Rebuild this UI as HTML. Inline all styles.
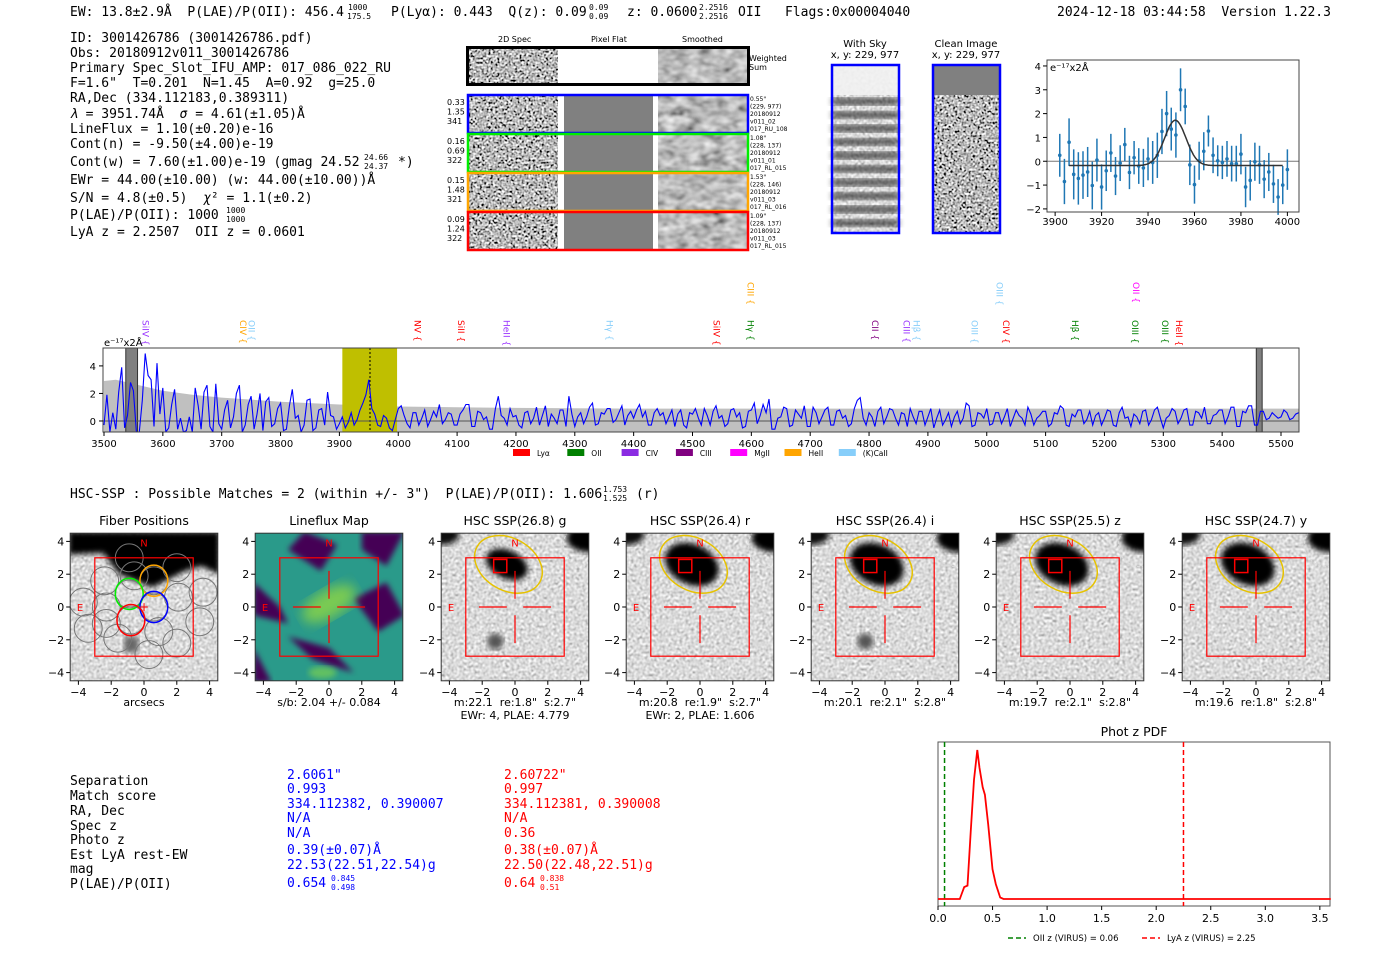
<!DOCTYPE html>
<html><head><meta charset="utf-8"><style>
body{margin:0;background:#fff;width:1400px;height:953px;overflow:hidden}
svg{display:block}
text{white-space:pre}
.m{font-family:"DejaVu Sans Mono","Liberation Mono",monospace;font-size:13px}
.s{font-family:"DejaVu Sans","Liberation Sans",sans-serif}
.t{font-family:"DejaVu Sans","Liberation Sans",sans-serif}
</style></head><body>
<svg id="root" width="1400" height="953" viewBox="0 0 1400 953" xmlns="http://www.w3.org/2000/svg" xml:space="preserve">
<defs>
<filter id="nz" x="0" y="0" width="1" height="1"><feTurbulence type="fractalNoise" baseFrequency="0.45" numOctaves="1" seed="4"/><feColorMatrix type="matrix" values="0.33 0.33 0.33 0 0 0.33 0.33 0.33 0 0 0.33 0.33 0.33 0 0 0 0 0 0 1"/><feComponentTransfer><feFuncR type="linear" slope="4" intercept="-1.5"/><feFuncG type="linear" slope="4" intercept="-1.5"/><feFuncB type="linear" slope="4" intercept="-1.5"/></feComponentTransfer></filter>
<filter id="sm" x="0" y="0" width="1" height="1"><feTurbulence type="fractalNoise" baseFrequency="0.08 0.12" numOctaves="2" seed="7"/><feColorMatrix type="matrix" values="0.33 0.33 0.33 0 0 0.33 0.33 0.33 0 0 0.33 0.33 0.33 0 0 0 0 0 0 1"/><feComponentTransfer><feFuncR type="linear" slope="1.8" intercept="-0.4"/><feFuncG type="linear" slope="1.8" intercept="-0.4"/><feFuncB type="linear" slope="1.8" intercept="-0.4"/></feComponentTransfer></filter>
<filter id="lt" x="0" y="0" width="1" height="1"><feTurbulence type="fractalNoise" baseFrequency="0.35" numOctaves="1" seed="2"/><feColorMatrix type="matrix" values="0.5 0.5 0.5 0 -0.05 0.5 0.5 0.5 0 -0.05 0.5 0.5 0.5 0 -0.05 0 0 0 0 1"/></filter>
<filter id="bl"><feGaussianBlur stdDeviation="3"/></filter>
<filter id="bl2"><feGaussianBlur stdDeviation="6"/></filter>
</defs>

<g class="m">
<text x="70" y="16">EW: 13.8±2.9Å  P(LAE)/P(OII): 456.4</text>
<text x="348" y="10" style="font-size:8px">1000</text><text x="347" y="19" style="font-size:8px">175.5</text>
<text x="391" y="16">P(Lyα): 0.443  Q(z): 0.09</text>
<text x="589" y="10" style="font-size:8px">0.09</text><text x="589" y="19" style="font-size:8px">0.09</text>
<text x="627" y="16">z: 0.0600</text>
<text x="699" y="10" style="font-size:8px">2.2516</text><text x="699" y="19" style="font-size:8px">2.2516</text>
<text x="738" y="16">OII   Flags:0x00004040</text>
<text x="1057" y="16">2024-12-18 03:44:58  Version 1.22.3</text>
</g>
<g class="m">
<text x="70" y="42">ID: 3001426786 (3001426786.pdf)</text>
<text x="70" y="57">Obs: 20180912v011_3001426786</text>
<text x="70" y="72">Primary Spec_Slot_IFU_AMP: 017_086_022_RU</text>
<text x="70" y="87">F=1.6"  T=0.201  N=1.45  A=0.92  g=25.0</text>
<text x="70" y="102">RA,Dec (334.112183,0.389311)</text>
<text x="70" y="118"><tspan font-style="italic">λ</tspan> = 3951.74Å  <tspan font-style="italic">σ</tspan> = 4.61(±1.05)Å</text>
<text x="70" y="133">LineFlux = 1.10(±0.20)e-16</text>
<text x="70" y="148">Cont(n) = -9.50(±4.00)e-19</text>
<text x="70" y="166">Cont(w) = 7.60(±1.00)e-19 (gmag 24.52</text>
<text x="364" y="160" style="font-size:8px">24.66</text><text x="364" y="169" style="font-size:8px">24.37</text><text x="398" y="166">*)</text>
<text x="70" y="184">EWr = 44.00(±10.00) (w: 44.00(±10.00))Å</text>
<text x="70" y="202">S/N = 4.8(±0.5)  <tspan font-style="italic">χ</tspan>² = 1.1(±0.2)</text>
<text x="70" y="219">P(LAE)/P(OII): 1000</text>
<text x="226" y="213" style="font-size:8px">1000</text><text x="226" y="222" style="font-size:8px">1000</text>
<text x="70" y="236">LyA z = 2.2507  OII z = 0.0601</text>
</g>

<g id="spec2d" class="s" style="font-size:8px">
<text x="498" y="42">2D Spec</text><text x="591" y="42">Pixel Flat</text><text x="682" y="42">Smoothed</text>
</g>
<g class="s" style="font-size:10px">
<text x="865" y="47" text-anchor="middle">With Sky</text><text x="865" y="58" text-anchor="middle">x, y: 229, 977</text>
<text x="966" y="47" text-anchor="middle">Clean Image</text><text x="966" y="58" text-anchor="middle">x, y: 229, 977</text>
<rect x="832" y="65" width="67" height="168" fill="#bbb" filter="url(#lt)"/>
<rect x="832" y="65" width="67" height="30" fill="#f2f2f2" opacity="0.9"/>
<g id="skybands"></g>
<rect x="832" y="65" width="67" height="168" fill="none" stroke="#0000ff" stroke-width="2.5"/>
<rect x="933" y="65" width="67" height="168" fill="#888" filter="url(#nz)"/>
<rect x="933" y="65" width="67" height="30" fill="#808080"/>
<rect x="933" y="65" width="67" height="168" fill="none" stroke="#0000ff" stroke-width="2.5"/>
</g>

<g id="zoomplot"></g>
<g id="specplot"></g>

<g class="m">
<text x="70" y="498">HSC-SSP : Possible Matches = 2 (within +/- 3")  P(LAE)/P(OII): 1.606</text>
<text x="603" y="492" style="font-size:8px">1.753</text><text x="603" y="501" style="font-size:8px">1.525</text>
<text x="636" y="498">(r)</text>
</g>

<g id="cutouts"></g>

<g class="m">
<text x="70" y="785">Separation</text><text x="70" y="800">Match score</text><text x="70" y="815">RA, Dec</text><text x="70" y="830">Spec z</text><text x="70" y="844">Photo z</text><text x="70" y="859">Est LyA rest-EW</text><text x="70" y="873">mag</text><text x="70" y="888">P(LAE)/P(OII)</text>
<g fill="#0000ff"><text x="287" y="779">2.6061"</text><text x="287" y="793">0.993</text><text x="287" y="808">334.112382, 0.390007</text><text x="287" y="822">N/A</text><text x="287" y="837">N/A</text><text x="287" y="854">0.39(±0.07)Å</text><text x="287" y="869">22.53(22.51,22.54)g</text><text x="287" y="887">0.654</text><text x="331" y="881" style="font-size:8px">0.845</text><text x="331" y="890" style="font-size:8px">0.498</text></g>
<g fill="#ff0000"><text x="504" y="779">2.60722"</text><text x="504" y="793">0.997</text><text x="504" y="808">334.112381, 0.390008</text><text x="504" y="822">N/A</text><text x="504" y="837">0.36</text><text x="504" y="854">0.38(±0.07)Å</text><text x="504" y="869">22.50(22.48,22.51)g</text><text x="504" y="887">0.64</text><text x="540" y="881" style="font-size:8px">0.838</text><text x="540" y="890" style="font-size:8px">0.51</text></g>
</g>

<g id="pdfplot"></g>
</svg>
<script>
const NS='http://www.w3.org/2000/svg';
function mk(tag,attrs,parent){const e=document.createElementNS(NS,tag);for(const k in attrs){e.setAttribute(k,attrs[k]);if(k==='font-size')e.style.fontSize=attrs[k]+'px';}parent.appendChild(e);return e;}
function tx(str,attrs,parent){if(attrs.class==='t'&&!('font-size' in attrs))attrs['font-size']=11;const e=mk('text',attrs,parent);e.textContent=str;return e;}

// ===== zoom line fit data =====
const fitWave=[3902,3904,3906,3908,3910,3912,3914,3916,3918,3920,3922,3924,3926,3928,3930,3932,3934,3936,3938,3940,3942,3944,3946,3948,3950,3952,3954,3956,3958,3960,3962,3964,3966,3968,3970,3972,3974,3976,3978,3980,3982,3984,3986,3988,3990,3992,3994,3996,3998,4000];
const fitFlux=[0.25,-0.85,0.8,-0.55,-0.72,-0.58,-0.45,-1.02,0.05,-1.08,-0.4,0.35,-0.62,-0.08,0.7,-0.47,0.15,-0.2,-0.28,0.1,-0.05,0.25,1.25,2.0,1.35,1.1,3.0,2.3,-0.15,-0.98,0.02,0.42,1.27,0.25,0.02,-0.05,0.1,-0.1,-0.1,0.3,-1.08,-0.8,-0.02,-0.15,-0.75,-0.45,-0.95,-1.5,-1.0,-0.35];
const fitErr=[0.9,0.95,1.0,1.05,1.1,1.0,1.05,1.0,0.9,0.95,0.85,0.8,0.8,0.75,0.7,0.7,0.7,0.75,0.8,0.9,0.9,0.95,0.95,0.95,0.9,0.95,0.9,0.75,0.85,0.8,0.8,0.8,0.65,0.75,0.65,0.7,0.75,0.75,0.75,0.85,0.85,0.85,0.8,0.8,0.8,0.8,0.8,0.75,0.8,0.85];
const fitParams=[3951.74,4.61,1.9,-0.18];
const fitXTicks=[3900,3920,3940,3960,3980,4000];
const fitYTicks=[-2,-1,0,1,2,3,4];

// ===== full spectrum data (5 A steps from 3500) =====
const specStart=3500, specStep=5;
const specFlux=[
-0.3,1.9,-0.8,0.6,-0.6,2.1,3.9,-0.5,0.4,2.8,2.2,-0.8,-0.8,1.5,4.9,3.3,3.0,-0.4,4.2,0.5,
2.4,-0.8,-0.5,1.2,2.3,-0.6,0.2,-0.8,-0.7,0.3,-0.8,2.4,1.1,-0.6,2.1,2.6,-0.4,-0.8,2.7,-0.2,
-0.6,0.8,1.5,-0.5,0.3,2.0,2.6,-0.8,-0.3,1.2,1.8,-0.6,0.5,2.0,-0.7,1.4,1.7,-0.4,-0.2,0.9,
1.3,-0.7,-0.6,1.1,2.3,0.2,0.4,-0.8,-0.3,1.5,1.6,-0.7,-0.5,0.8,0.9,-0.3,2.1,0.4,0.3,-0.6,
-0.2,0.3,-0.5,-0.1,0.6,-0.3,0.1,0.8,1.3,1.9,3.0,0.9,0.5,-0.3,-0.4,0.4,0.2,-0.5,-0.7,0.1,
0.9,1.1,0.4,-0.2,-0.5,0.6,0.6,-0.3,0.2,0.8,-0.4,0.1,0.7,0.3,1.2,-0.2,0.1,0.6,0.5,-0.3,
-0.3,0.5,0.8,1.2,1.2,-0.4,-0.4,0.7,0.6,0.1,0.3,-0.6,-0.6,0.9,1.8,0.4,0.2,-0.3,0.9,0.3,
0.4,-0.3,-0.5,0.6,0.7,-0.2,0.2,1.0,-0.3,0.4,1.1,-0.4,0.5,0.2,-0.2,0.8,0.8,-0.4,1.8,0.5,
-0.4,0.3,0.6,-0.2,0.3,1.0,1.3,-0.3,-0.2,0.6,0.5,0.9,0.9,-0.1,0.1,0.6,1.1,-0.3,0.4,0.7,
0.2,0.8,1.2,0.3,0.7,-0.3,-0.3,0.6,0.9,0.4,0.6,-0.2,0.3,0.8,-0.4,0.5,0.8,-0.3,-0.5,0.6,
0.5,0.9,0.2,-0.3,0.9,0.4,-0.3,0.7,1.1,0.2,0.4,-0.4,-0.2,0.8,0.9,0.3,0.6,-0.5,-0.4,0.7,
0.8,1.3,-0.2,0.4,1.2,0.6,1.6,-0.6,-0.6,0.2,0.3,1.0,0.9,-0.4,-0.3,0.8,0.5,0.2,1.1,-0.4,
-0.4,1.0,0.6,-0.2,0.3,0.8,1.0,-0.3,-0.3,0.7,0.8,0.2,0.4,-0.4,-0.2,0.9,1.5,1.7,0.2,-0.3,
0.6,0.3,-0.4,0.7,1.0,-0.2,0.3,0.9,0.8,0.2,-0.3,0.6,0.5,-0.4,0.9,0.3,-0.2,0.7,0.7,-0.3,
0.3,0.9,-0.5,0.2,0.8,-0.3,0.1,0.6,-0.4,0.3,0.7,-0.2,0.2,1.3,1.1,-0.4,-0.3,0.6,0.5,0.2,
0.9,-0.3,-0.2,0.6,0.6,-0.2,0.3,0.9,-0.4,0.2,0.8,0.4,0.2,-0.3,1.0,0.5,-0.3,0.2,0.4,0.7,
0.7,-0.4,-0.2,0.6,0.5,1.1,0.9,-0.3,-0.4,0.5,0.3,0.8,0.8,-0.2,0.1,0.7,-0.3,0.4,0.6,-0.3,
0.2,0.8,0.7,-0.3,-0.4,0.6,1.0,0.2,0.3,-0.4,0.5,0.3,-0.2,0.7,0.8,-0.3,0.1,0.8,1.0,0.2,
-0.5,0.2,0.4,0.9,0.7,-0.2,0.2,0.8,0.9,-0.3,-0.3,0.7,0.6,0.2,1.0,-0.2,-0.2,0.4,0.5,0.8,
0.8,-0.2,0.3,1.0,1.0,-0.4,-0.4,0.7,0.6,1.1,1.1,-0.3,-0.3,0.7,0.7,0.1,0.2,0.6,0.4,0.2,
0.3,0.8,0.6,0.1,0.2,0.5,0.6,0.3];
const errWave=[3500,3520,3600,3650,3700,3800,3900,4000,4100,4200,4400,4600,4800,5000,5200,5400,5530];
const errVal=[2.9,3.0,2.2,1.9,1.7,1.4,1.2,1.05,1.0,0.95,0.9,0.9,0.9,0.9,0.9,0.9,0.9];
const specXTicks=[3500,3600,3700,3800,3900,4000,4100,4200,4300,4400,4500,4600,4700,4800,4900,5000,5100,5200,5300,5400,5500];
const specYTicks=[0,2,4];
const lineNames=['SiIV','CIV','OII','NV','SiII','HeII','Hγ','SiIV','Hγ','CII','CIII','Hβ','OIII','CIV','Hβ','OIII','OIII','HeII','CIII','OIII','OII'];
const lineWaves=[3570,3735,3750,4032,4106,4183,4358,4540,4598,4809,4863,4880,4978,5032,5149,5251,5302,5326,4598,5021,5253];
const lineRows=[0,0,0,0,0,0,0,0,0,0,0,0,0,0,0,0,0,0,1,1,1];
const lineColors=['#9933ff','#ffa500','#87cefa','#ff0000','#ff0000','#9933ff','#87cefa','#ff0000','#008000','#800080','#9933ff','#87cefa','#87cefa','#ff0000','#008000','#008000','#008000','#ff0000','#ffa500','#87cefa','#ff00ff'];
const legendNames=['Lyα','OII','CIV','CIII','MgII','HeII','(K)CaII'];
const legendColors=['#ff0000','#008000','#8a2be2','#800080','#ff00ff','#ffa500','#87cefa'];

// ===== phot z pdf =====
const pdfZ=[0,0.2,0.22,0.24,0.27,0.3,0.33,0.36,0.38,0.41,0.43,0.46,0.5,0.53,0.57,0.6,3.6];
const pdfP=[0,0,0.04,0.08,0.09,0.45,0.8,1.0,0.88,0.75,0.7,0.5,0.2,0.1,0.01,0,0];
const pdfXTicks=[0,0.5,1.0,1.5,2.0,2.5,3.0,3.5];
const pdfMarkers=[0.06,2.25];

(function(){
 const g=document.getElementById('spec2d');
 let e=mk('rect',{x:469,y:48,width:89,height:35,fill:'#888',filter:'url(#nz)'},g);
 e=mk('rect',{x:658,y:48,width:89,height:35,fill:'#888',filter:'url(#sm)'},g);
 e=mk('rect',{x:467.5,y:47.5,width:281,height:37,fill:'none',stroke:'#000','stroke-width':3},g);
 
 
 tx('Weighted',{x:749,y:61},g);tx('Sum',{x:749,y:70},g);
 const rows=[[95,'#0000ff',['0.33','1.35','341'],['0.55"','(229, 977)','20180912','v011_02','017_RU_108']],[134,'#00ee00',['0.16','0.69','322'],['1.08"','(228, 137)','20180912','v011_01','017_RL_015']],[173,'#ffa500',['0.15','1.48','321'],['1.53"','(228, 146)','20180912','v011_03','017_RL_016']],[212,'#ff0000',['0.09','1.24','322'],['1.09"','(228, 137)','20180912','v011_03','017_RL_015']]];
 rows.forEach((r,i)=>{
  const y=r[0];
  mk('rect',{x:469,y:y,width:89,height:38,fill:'#888',filter:'url(#nz)'},g);
  mk('rect',{x:564,y:y,width:89,height:38,fill:'#808080'},g);
  mk('rect',{x:658,y:y,width:89,height:38,fill:'#888',filter:'url(#sm)'},g);
  const b=mk('rect',{x:468,y:y,width:280,height:38,fill:'none',stroke:r[1],'stroke-width':2.5},g);
  
  
  r[2].forEach((s,k)=>tx(s,{x:447,y:y+10+k*9.5},g));
  r[3].forEach((s,k)=>tx(s,{x:750,y:y+6+k*7.5,'font-size':6},g));
 });
 const sb=document.getElementById('skybands');
 for(let i=0;i<10;i++){mk('rect',{x:832,y:98+i*13.5,width:67,height:7,fill:'#222',opacity:0.75,filter:'url(#bl)'},sb);}
})();

(function(){
 const g=document.getElementById('zoomplot');
 const L=1047,R=1299,T=60,B=212,x0=3896.5,x1=4005,y0=-2.13,y1=4.25;
 const X=v=>L+(v-x0)/(x1-x0)*(R-L), Y=v=>B-(v-y0)/(y1-y0)*(B-T);
 mk('rect',{x:L,y:T,width:R-L,height:B-T,fill:'#fff'},g);
 mk('line',{x1:L,x2:R,y1:Y(0),y2:Y(0),stroke:'#777','stroke-width':1},g);
 fitWave.forEach((w,i)=>{
  const eb=mk('line',{x1:X(w),x2:X(w),y1:Y(fitFlux[i]-fitErr[i]),y2:Y(fitFlux[i]+fitErr[i]),stroke:'#1f77b4','stroke-width':1.5},g);
  
  
  const p=mk('circle',{cx:X(w),cy:Y(fitFlux[i]),r:1.8,fill:'#1f77b4'},g);
  
  
 });
 let d='';
 for(let w=3906;w<=3998;w+=0.5){const v=fitParams[3]+fitParams[2]*Math.exp(-0.5*Math.pow((w-fitParams[0])/fitParams[1],2));d+=(d?'L':'M')+X(w).toFixed(1)+','+Y(v).toFixed(1);}
 const fl=mk('path',{d:d,fill:'none',stroke:'#333','stroke-width':1.5},g);
 
 
 mk('rect',{x:L,y:T,width:R-L,height:B-T,fill:'none',stroke:'#444','stroke-width':1},g);
 fitXTicks.forEach(v=>{mk('line',{x1:X(v),x2:X(v),y1:B,y2:B+4,stroke:'#000'},g);tx(String(v),{x:X(v),y:B+13,'text-anchor':'middle',class:'t','font-size':10},g);});
 fitYTicks.forEach(v=>{mk('line',{x1:L-4,x2:L,y1:Y(v),y2:Y(v),stroke:'#000'},g);tx(v<0?'−'+(-v):String(v),{x:L-6,y:Y(v)+4,'text-anchor':'end',class:'t','font-size':10},g);});
 tx('e⁻¹⁷x2Å',{x:L+3,y:T+11,class:'t','font-size':10},g);
})();

(function(){
 const g=document.getElementById('specplot');
 const L=103,R=1299,T=348,B=432,x0=3500,y0=-0.8,y1=5.3;
 const X=v=>104+(v-x0)*0.5885, Y=v=>B-(v-y0)/(y1-y0)*(B-T);
 const cp=mk('clipPath',{id:'spc'},g);mk('rect',{x:L,y:T,width:R-L,height:B-T},cp);
 const c=mk('g',{'clip-path':'url(#spc)'},g);
 let d='M'+X(errWave[0])+','+B;
 errWave.forEach((w,i)=>{d+='L'+X(w).toFixed(1)+','+Y(errVal[i]).toFixed(1);});
 d+='L'+X(errWave[errWave.length-1])+','+B+'Z';
 const ef=mk('path',{d:d,fill:'#c0c0c0'},c);
 
 
 const yb=mk('rect',{x:X(3905),y:T,width:X(3998)-X(3905),height:B-T,fill:'#bfbf00'},c);
 
 
 mk('rect',{x:X(3537),y:T,width:X(3557)-X(3537),height:B-T,fill:'#808080',stroke:'#333'},c);
 mk('rect',{x:X(5458),y:T,width:X(5468)-X(5458),height:B-T,fill:'#808080',stroke:'#333'},c);
 mk('line',{x1:X(3952),x2:X(3952),y1:T,y2:B,stroke:'#000','stroke-dasharray':'2,2'},c);
 mk('line',{x1:L,x2:R,y1:Y(0),y2:Y(0),stroke:'#555'},c);
 let p='';specFlux.forEach((v,i)=>{p+=(p?'L':'M')+X(specStart+i*specStep).toFixed(1)+','+Y(v).toFixed(1);});
 const sl=mk('path',{d:p,fill:'none',stroke:'#0000ff','stroke-width':1.1},c);
 
 
 mk('rect',{x:L,y:T,width:R-L,height:B-T,fill:'none',stroke:'#444'},g);
 specXTicks.forEach(v=>{mk('line',{x1:X(v),x2:X(v),y1:B,y2:B+4,stroke:'#000'},g);tx(String(v),{x:X(v),y:B+15,'text-anchor':'middle',class:'t','font-size':10},g);});
 specYTicks.forEach(v=>{mk('line',{x1:L-4,x2:L,y1:Y(v),y2:Y(v),stroke:'#000'},g);tx(String(v),{x:L-7,y:Y(v)+4,'text-anchor':'end',class:'t','font-size':10},g);});
 tx('e⁻¹⁷x2Å',{x:104,y:346,class:'t','font-size':10},g);
 lineNames.forEach((n,i)=>{
  const x=X(lineWaves[i]), y=lineRows[i]?282:320;
  const t=tx(n+' {',{x:x,y:y,transform:'rotate(90 '+x+' '+y+')',fill:lineColors[i],class:'t','font-size':9,'dominant-baseline':'middle'},g);
  
  
 });
 legendNames.forEach((n,i)=>{
  const x=513+i*54.3;
  const r=mk('rect',{x:x,y:449,width:17,height:7,fill:legendColors[i]},g);
  
  
  tx(n,{x:x+24,y:456,class:'t','font-size':7.5},g);
 });
})();

(function(){
 const g=document.getElementById('cutouts');
 const cxs=[144,329,515,700,885,1070,1256];
 const titles=['Fiber Positions','Lineflux Map','HSC SSP(26.8) g','HSC SSP(26.4) r','HSC SSP(26.4) i','HSC SSP(25.5) z','HSC SSP(24.7) y'];
 const sub1=['arcsecs','s/b: 2.04 +/- 0.084','m:22.1  re:1.8"  s:2.7"','m:20.8  re:1.9"  s:2.7"','m:20.1  re:2.1"  s:2.8"','m:19.7  re:2.1"  s:2.8"','m:19.6  re:1.8"  s:2.8"'];
 const sub2=['','','EWr: 4, PLAE: 4.779','EWr: 2, PLAE: 1.606','','',''];
 const S=16.4, Y0=607;
 cxs.forEach((cx,k)=>{
  const pg=mk('g',{},g);
  
  
  const L=cx-4.5*S,T=Y0-4.5*S,W=9*S;
  const X=v=>cx+v*S,Y=v=>Y0-v*S;
  const id='cc'+k;const cp=mk('clipPath',{id:id},pg);mk('rect',{x:L,y:T,width:W,height:W},cp);
  const c=mk('g',{'clip-path':'url(#'+id+')'},pg);
  if(k===1){
   mk('rect',{x:L,y:T,width:W,height:W,fill:'#2a9a8a'},c);
   [[-2.5,3.5,-0.5,2.2,0.5,3.8,-1.5,4.6],[1.5,0.5,3.5,1.5,4.6,-0.5,3,-1.5],[-4.6,1.5,-3,0,-2.5,-1,-4.6,-0.5],[-2.5,-1.8,0,-2.5,1.5,-4,-1,-3.2],[2,3.5,3.5,2.5,4.6,4.6,2,4.6],[-4.6,-2.5,-3.5,-4.6,-4.6,-4.6,-4.6,-3]].forEach(q=>{
    mk('polygon',{points:q.map((v,i)=>i%2?Y(v):X(v)).join(' '),fill:'#440154',filter:'url(#bl)'},c);});
   mk('ellipse',{cx:X(0),cy:Y(0.2),rx:30,ry:14,transform:'rotate(-30 '+X(0)+' '+Y(0.2)+')',fill:'#8fd744',opacity:0.8,filter:'url(#bl2)'},c);
   mk('ellipse',{cx:X(-0.4),cy:Y(-4),rx:14,ry:6,fill:'#7ad151',opacity:0.7,filter:'url(#bl)'},c);
  } else {
   mk('rect',{x:L,y:T,width:W,height:W,fill:'#bbb',filter:'url(#lt)'},c);
   if(k===0){
    mk('path',{d:'M'+X(-4.6)+','+Y(4.6)+'L'+X(4.6)+','+Y(4.6)+'L'+X(4.6)+','+Y(2)+'L'+X(3.5)+','+Y(2.5)+'L'+X(2.5)+','+Y(2.2)+'L'+X(0.5)+','+Y(1.2)+'L'+X(-1.5)+','+Y(2)+'L'+X(-2.5)+','+Y(3.3)+'L'+X(-4.6)+','+Y(3.2)+'Z',fill:'#000',filter:'url(#bl)'},c);
    mk('rect',{x:X(-1.2),y:Y(-1.8),width:14,height:16,fill:'#666',filter:'url(#bl)'},c);
   } else {
    mk('ellipse',{cx:X(-0.5),cy:Y(2.6),rx:k===2?22:28,ry:k===2?14:20,transform:'rotate(25 '+X(-0.5)+' '+Y(2.6)+')',fill:'#000',filter:'url(#bl)'},c);
    mk('ellipse',{cx:X(4.5),cy:Y(4.2),rx:22,ry:14,fill:'#000',filter:'url(#bl)'},c);
    mk('ellipse',{cx:X(-4.5),cy:Y(4.4),rx:18,ry:10,fill:'#111',filter:'url(#bl)'},c);
    if(k===2||k===4)mk('circle',{cx:X(-1.2),cy:Y(-2.1),r:8,fill:'#555',filter:'url(#bl)'},c);
    mk('ellipse',{cx:X(-0.4),cy:Y(2.6),rx:36,ry:26,transform:'rotate(30 '+X(-0.4)+' '+Y(2.6)+')',fill:'none',stroke:'#e6c200','stroke-width':1.5},c);
    mk('circle',{cx:X(4.3),cy:Y(3.8),r:22,fill:'none',stroke:'#ddd','stroke-dasharray':'3,2'},c);
    mk('rect',{x:X(-1.3),y:Y(2.9),width:0.8*S,height:0.8*S,fill:'none',stroke:'#ff0000','stroke-width':1.5},c);
   }
  }
  if(k===0){
   const grid=[[-0.9,3],[0.6,1.6],[-0.9,0.8],[0.6,0],[-0.8,-0.8],[-2.4,1.6],[-2.3,0],[-1.6,-1.9],[0.9,-1.5],[2.0,2.4],[2.1,0.6],[3.6,0.9],[3.4,-0.9],[2.0,-2.2],[-3.7,0.3],[-3.4,-1.3],[0.3,-2.9],[-0.6,1.9],[-2.3,-1.0]];
   grid.forEach(p=>mk('circle',{cx:X(p[0]),cy:Y(p[1]),r:0.85*S,fill:'none',stroke:'#777','stroke-width':1},c));
   [[0.6,1.6,'#ffa500'],[-0.9,0.8,'#00ee00'],[0.6,0,'#0000ff'],[-0.8,-0.8,'#ff0000']].forEach(p=>mk('ellipse',{cx:X(p[0]),cy:Y(p[1]),rx:0.85*S,ry:0.95*S,fill:'none',stroke:p[2],'stroke-width':1.5},c));
   tx('+',{x:X(0),y:Y(0)+4,'text-anchor':'middle',fill:'#ff0000',class:'t','font-size':12},c);
  } else {
   [[-2.2,0,-0.5,0],[0.5,0,2.2,0],[0,2.2,0,0.5],[0,-0.5,0,-2.2]].forEach(s=>mk('line',{x1:X(s[0]),y1:Y(s[1]),x2:X(s[2]),y2:Y(s[3]),stroke:'#ff0000','stroke-width':1.2},c));
  }
  mk('rect',{x:X(-3),y:Y(3),width:6*S,height:6*S,fill:'none',stroke:'#ff0000','stroke-width':1.2},c);
  tx('N',{x:X(0),y:Y(4)+5,'text-anchor':'middle',fill:'#ff0000',class:'t','font-size':10},c);
  tx('E',{x:X(-3.9),y:Y(0)+4,'text-anchor':'middle',fill:'#ff0000',class:'t','font-size':10},c);
  mk('rect',{x:L,y:T,width:W,height:W,fill:'none',stroke:'#333'},pg);
  [-4,-2,0,2,4].forEach(v=>{
   mk('line',{x1:X(v),x2:X(v),y1:T+W,y2:T+W+4,stroke:'#000'},pg);
   tx(v<0?'−'+(-v):String(v),{x:X(v),y:T+W+15,'text-anchor':'middle',class:'t'},pg);
   mk('line',{x1:L-4,x2:L,y1:Y(v),y2:Y(v),stroke:'#000'},pg);
   tx(v<0?'−'+(-v):String(v),{x:L-6,y:Y(v)+4,'text-anchor':'end',class:'t'},pg);
  });
  const tt=tx(titles[k],{x:cx,y:525,'text-anchor':'middle',class:'t','font-size':12.5},pg);
  
  
  tx(sub1[k],{x:cx,y:706,'text-anchor':'middle',class:'t'},pg);
  if(sub2[k])tx(sub2[k],{x:cx,y:719,'text-anchor':'middle',class:'t'},pg);
 });
})();

(function(){
 const g=document.getElementById('pdfplot');
 const L=938,R=1330,T=742,B=906;
 const X=v=>938+v*109.1, Y=v=>899-v*149;
 mk('rect',{x:L,y:T,width:R-L,height:B-T,fill:'#fff',stroke:'#555'},g);
 const m1=mk('line',{x1:X(pdfMarkers[0]),x2:X(pdfMarkers[0]),y1:T,y2:B,stroke:'#008000','stroke-width':1.5,'stroke-dasharray':'5,3'},g);
 
 
 const m2=mk('line',{x1:X(pdfMarkers[1]),x2:X(pdfMarkers[1]),y1:T,y2:B,stroke:'#ff0000','stroke-width':1.5,'stroke-dasharray':'5,3'},g);
 
 
 let d='';pdfZ.forEach((z,i)=>{d+=(d?'L':'M')+X(z).toFixed(1)+','+Y(pdfP[i]).toFixed(1);});
 const cv=mk('path',{d:d,fill:'none',stroke:'#ff0000','stroke-width':1.8},g);
 
 
 pdfXTicks.forEach(v=>{mk('line',{x1:X(v),x2:X(v),y1:B,y2:B+4,stroke:'#000'},g);tx(v.toFixed(1),{x:X(v),y:B+16,'text-anchor':'middle',class:'t'},g);});
 tx('Phot z PDF',{x:1134,y:736,'text-anchor':'middle',class:'t','font-size':12.5},g);
 mk('line',{x1:1008,x2:1026,y1:938,y2:938,stroke:'#008000','stroke-width':1.5,'stroke-dasharray':'5,3'},g);
 tx('OII z (VIRUS) = 0.06',{x:1033,y:941,class:'t','font-size':8.5},g);
 mk('line',{x1:1142,x2:1160,y1:938,y2:938,stroke:'#ff0000','stroke-width':1.5,'stroke-dasharray':'5,3'},g);
 tx('LyA z (VIRUS) = 2.25',{x:1167,y:941,class:'t','font-size':8.5},g);
})();
</script>
</body></html>
